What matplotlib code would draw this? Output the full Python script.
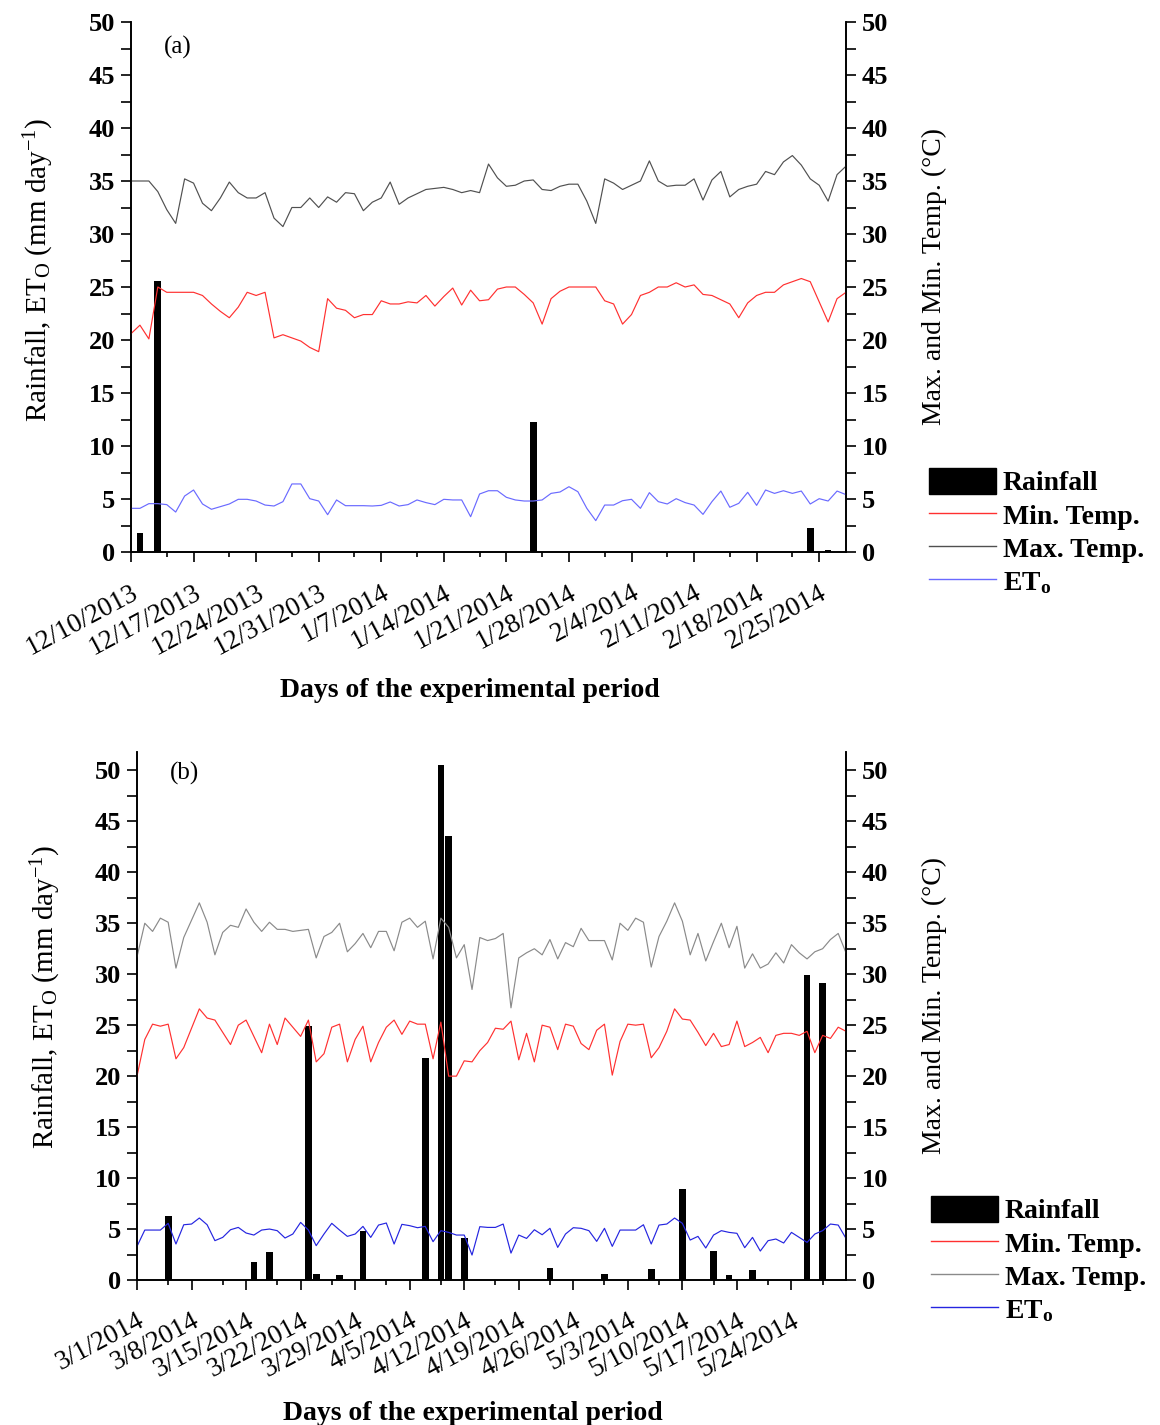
import numpy as np
import matplotlib
matplotlib.use('Agg')
import matplotlib.pyplot as plt
import matplotlib.dates as mdates
from matplotlib.patches import Patch
from matplotlib.lines import Line2D

plt.rcParams['font.family'] = ['Liberation Serif', 'DejaVu Serif']
plt.rcParams['mathtext.fontset'] = 'custom'
plt.rcParams['mathtext.rm'] = 'Liberation Serif'
plt.rcParams['mathtext.it'] = 'Liberation Serif:italic'
plt.rcParams['mathtext.bf'] = 'Liberation Serif:bold'

# ---------------- Panel (a) data: 10 Dec 2013 - 28 Feb 2014 (daily) ----------------
start_a = '2013-12-10'
end_a = '2014-02-28'
tmax_a = [35.0, 35.0, 35.0, 34.0, 32.3, 31.0, 35.2, 34.8, 32.9, 32.2,
          33.4, 34.9, 33.9, 33.4, 33.4, 33.9, 31.5, 30.7, 32.5, 32.5,
          33.4, 32.5, 33.5, 33.0, 33.9, 33.8, 32.2, 33.0, 33.4, 34.9,
          32.8, 33.4, 33.8, 34.2, 34.3, 34.4, 34.2, 33.9, 34.1, 33.9,
          36.6, 35.3, 34.5, 34.6, 35.0, 35.1, 34.2, 34.1, 34.5, 34.7,
          34.7, 33.1, 31.0, 35.2, 34.8, 34.2, 34.6, 35.0, 36.9, 35.0,
          34.5, 34.6, 34.6, 35.2, 33.2, 35.1, 35.9, 33.5, 34.2, 34.5,
          34.7, 35.9, 35.6, 36.8, 37.4, 36.5, 35.2, 34.6, 33.1, 35.6,
          36.4]
tmin_a = [20.6, 21.4, 20.1, 25.0, 24.5, 24.5, 24.5, 24.5, 24.2, 23.4,
          22.7, 22.1, 23.1, 24.5, 24.2, 24.5, 20.2, 20.5, 20.2, 19.9,
          19.3, 18.9, 23.9, 23.0, 22.8, 22.1, 22.4, 22.4, 23.7, 23.4,
          23.4, 23.6, 23.5, 24.2, 23.2, 24.1, 24.9, 23.3, 24.7, 23.7,
          23.8, 24.8, 25.0, 25.0, 24.3, 23.5, 21.5, 23.9, 24.6, 25.0,
          25.0, 25.0, 25.0, 23.7, 23.4, 21.5, 22.4, 24.2, 24.5, 25.0,
          25.0, 25.4, 25.0, 25.2, 24.3, 24.2, 23.8, 23.4, 22.1, 23.5,
          24.2, 24.5, 24.5, 25.2, 25.5, 25.8, 25.5, 23.6, 21.7, 23.9,
          24.5]
et_a = [4.12, 4.12, 4.56, 4.56, 4.47, 3.77, 5.28, 5.85, 4.53, 4.03,
        4.28, 4.53, 4.97, 4.97, 4.81, 4.43, 4.34, 4.75, 6.42, 6.42,
        5.03, 4.81, 3.52, 4.91, 4.37, 4.37, 4.37, 4.34, 4.40, 4.72,
        4.34, 4.47, 4.91, 4.66, 4.47, 4.97, 4.91, 4.91, 3.33, 5.47,
        5.78, 5.78, 5.16, 4.91, 4.81, 4.81, 4.91, 5.53, 5.66, 6.16,
        5.69, 4.12, 2.96, 4.43, 4.43, 4.84, 4.97, 4.12, 5.60, 4.75,
        4.53, 5.03, 4.66, 4.43, 3.55, 4.75, 5.75, 4.22, 4.59, 5.63,
        4.40, 5.85, 5.53, 5.78, 5.53, 5.75, 4.53, 5.03, 4.81, 5.75,
        5.41]
rain_dates_a = ['2013-12-11', '2013-12-13', '2014-01-24', '2014-02-24', '2014-02-26']
rain_a = [1.8, 25.6, 12.3, 2.3, 0.2]
tick_labels_a = ['12/10/2013', '12/17/2013', '12/24/2013', '12/31/2013', '1/7/2014',
                 '1/14/2014', '1/21/2014', '1/28/2014', '2/4/2014', '2/11/2014',
                 '2/18/2014', '2/25/2014']

# ---------------- Panel (b) data: 1 Mar 2014 - 31 May 2014 (daily) ----------------
start_b = '2014-03-01'
end_b = '2014-05-31'
tmax_b = [31.7, 35.0, 34.2, 35.5, 35.1, 30.6, 33.6, 35.3, 37.0, 35.1,
          31.9, 34.1, 34.8, 34.6, 36.4, 35.1, 34.2, 35.1, 34.4, 34.4,
          34.2, 34.3, 34.4, 31.6, 33.7, 34.1, 35.0, 32.2, 33.0, 34.0,
          32.6, 34.2, 34.2, 32.3, 35.1, 35.5, 34.6, 35.2, 31.5, 35.5,
          34.6, 31.6, 32.9, 28.5, 33.6, 33.3, 33.5, 34.0, 26.7, 31.6,
          32.1, 32.5, 31.9, 33.4, 31.5, 33.1, 32.7, 34.5, 33.3, 33.3,
          33.3, 31.4, 35.0, 34.3, 35.5, 35.1, 30.7, 33.7, 35.2, 37.0,
          35.2, 31.9, 34.0, 31.3, 33.2, 35.0, 32.6, 34.7, 30.6, 32.0,
          30.6, 31.0, 32.1, 31.1, 32.9, 32.1, 31.5, 32.2, 32.5, 33.4,
          34.0, 32.1]
tmin_b = [20.0, 23.6, 25.1, 24.9, 25.1, 21.7, 22.8, 24.7, 26.6, 25.7,
          25.5, 24.3, 23.1, 25.0, 25.5, 23.9, 22.3, 25.1, 23.1, 25.7,
          24.8, 23.9, 25.5, 21.4, 22.2, 24.8, 25.1, 21.4, 23.6, 24.9,
          21.4, 23.3, 24.8, 25.5, 24.1, 25.4, 25.1, 25.1, 21.7, 25.3,
          20.0, 20.0, 21.5, 21.4, 22.5, 23.3, 24.7, 24.6, 25.4, 21.6,
          24.2, 21.4, 25.0, 24.8, 22.6, 25.1, 24.9, 23.2, 22.6, 24.5,
          25.1, 20.1, 23.4, 25.1, 25.0, 25.1, 21.8, 22.8, 24.4, 26.6,
          25.6, 25.5, 24.3, 23.0, 24.2, 22.9, 23.1, 25.4, 22.9, 23.3,
          23.8, 22.3, 24.0, 24.2, 24.2, 24.0, 24.4, 22.3, 24.0, 23.7,
          24.8, 24.4]
et_b = [3.30, 4.90, 4.90, 4.90, 5.56, 3.53, 5.42, 5.49, 6.08, 5.42,
        3.86, 4.18, 4.93, 5.16, 4.61, 4.41, 4.90, 5.00, 4.84, 4.12,
        4.51, 5.65, 4.90, 3.37, 4.51, 5.56, 4.90, 4.28, 4.51, 5.26,
        4.18, 5.39, 5.59, 3.53, 5.46, 5.33, 5.13, 5.26, 3.76, 4.84,
        4.67, 4.41, 4.41, 2.45, 5.23, 5.16, 5.16, 5.49, 2.64, 4.41,
        4.08, 4.93, 4.44, 5.07, 3.20, 4.51, 5.13, 5.07, 4.84, 3.79,
        5.07, 3.30, 4.90, 4.90, 4.90, 5.42, 3.53, 5.39, 5.49, 6.08,
        5.56, 3.92, 4.28, 3.14, 4.41, 4.84, 4.67, 4.58, 3.17, 4.18,
        2.84, 3.86, 4.02, 3.63, 4.67, 4.18, 3.69, 4.51, 4.84, 5.49,
        5.39, 4.08]
rain_dates_b = ['2014-03-05', '2014-03-16', '2014-03-18', '2014-03-23', '2014-03-24',
                '2014-03-27', '2014-03-30', '2014-04-07', '2014-04-09', '2014-04-10',
                '2014-04-12', '2014-04-23', '2014-04-30', '2014-05-06', '2014-05-10',
                '2014-05-14', '2014-05-16', '2014-05-19', '2014-05-26', '2014-05-28']
rain_b = [6.3, 1.8, 2.7, 24.9, 0.6, 0.5, 4.8, 21.8, 50.5, 43.6,
          4.1, 1.2, 0.6, 1.1, 8.9, 2.8, 0.5, 1.0, 29.9, 29.1]
tick_labels_b = ['3/1/2014', '3/8/2014', '3/15/2014', '3/22/2014', '3/29/2014',
                 '4/5/2014', '4/12/2014', '4/19/2014', '4/26/2014', '5/3/2014',
                 '5/10/2014', '5/17/2014', '5/24/2014']

W, H = 1160, 1425
fig = plt.figure(figsize=(W / 100, H / 100), dpi=100)


def fig_rect(l, t, r, b):
    return [l / W, 1 - b / H, (r - l) / W, (b - t) / H]


def panel(rect, start, end, tmax, tmin, et, rain_dates, rain, tick_labels,
          ymax, bar_w, cols, letter, label_xy, ylab_x, ylab_y, yr_x, yr_y,
          xlab_y, leg_xy):
    ax = fig.add_axes(rect)
    ax2 = ax.twinx()
    x0 = mdates.datestr2num(start)
    x1 = mdates.datestr2num(end)
    xs = x0 + np.arange(len(tmax))
    rx = [mdates.datestr2num(d) for d in rain_dates]

    ax.bar(rx, rain, width=bar_w, color='black', zorder=2)
    ax.plot(xs, et, color=cols['et'], lw=0.85, zorder=3)
    ax2.plot(xs, tmin, color=cols['min'], lw=0.85)
    ax2.plot(xs, tmax, color=cols['max'], lw=0.85)

    for a in (ax, ax2):
        a.set_xlim(x0, x1)
        a.set_ylim(0, ymax)
        a.spines['top'].set_visible(False)
        for s in ('left', 'right', 'bottom'):
            a.spines[s].set_linewidth(1.2)
        yt = list(range(0, 51, 5))
        a.set_yticks(yt, labels=[str(v) for v in yt], fontweight='bold', fontsize=19)
        a.set_yticks(np.arange(2.5, 50, 5), minor=True)
        a.tick_params(axis='y', which='both', direction='out', length=7.5,
                      width=1.2, pad=4)

    maj = x0 + 7 * np.arange(len(tick_labels))
    mnr = maj + 4
    mnr = mnr[mnr < x1]
    ax.set_xticks(maj, labels=tick_labels, rotation=28, ha='right', va='top',
                  rotation_mode='anchor', fontsize=19.5)
    ax.set_xticks(mnr, minor=True)
    ax.tick_params(axis='x', which='major', direction='out', length=7.5, width=1.2, pad=13)
    ax.tick_params(axis='x', which='minor', direction='out', length=3.8, width=1.2)

    ax.text(label_xy[0], label_xy[1], letter, transform=ax.transAxes,
            ha='left', va='top', fontsize=18)

    ax.set_ylabel('Rainfall, ET$_\\mathrm{O}$ (mm day$^{\\mathrm{-1}}$)', fontsize=21)
    ax.yaxis.set_label_coords(ylab_x, ylab_y)
    ax2.set_ylabel('Max. and Min. Temp. (\u00b0C)', fontsize=20)
    ax2.yaxis.set_label_coords(yr_x, yr_y)
    ax.set_xlabel('Days of the experimental period', fontsize=20, fontweight='bold')
    ax.xaxis.set_label_coords(0.474, xlab_y)

    handles = [Patch(facecolor='black', edgecolor='black'),
               Line2D([], [], color=cols['min'], lw=1.0),
               Line2D([], [], color=cols['max'], lw=1.0),
               Line2D([], [], color=cols['et'], lw=1.0)]
    labels = ['Rainfall', 'Min. Temp.', 'Max. Temp.', 'ET$_\\mathbf{o}$']
    fig.legend(handles, labels, loc='upper left',
               bbox_to_anchor=(leg_xy[0] / W, 1 - leg_xy[1] / H),
               bbox_transform=fig.transFigure, frameon=False, borderpad=0,
               borderaxespad=0, handlelength=2.4, handleheight=1.05,
               handletextpad=0.25, labelspacing=0.18,
               prop={'family': 'Liberation Serif', 'weight': 'bold', 'size': 20})
    return ax, ax2


cols_a = {'min': '#ff3030', 'max': '#505050', 'et': '#6a6aff'}
cols_b = {'min': '#ff3030', 'max': '#8a8a8a', 'et': '#2525e0'}

panel(fig_rect(131, 22, 846, 552), start_a, end_a, tmax_a, tmin_a, et_a,
      rain_dates_a, rain_a, tick_labels_a, 50, 0.75, cols_a, '(a)',
      (0.046, 0.973), -0.105, 0.532, 1.106, 0.519, -0.237, (929, 468))

panel(fig_rect(137, 752, 846, 1280), start_b, end_b, tmax_b, tmin_b, et_b,
      rain_dates_b, rain_b, tick_labels_b, 51.8, 0.86, cols_b, '(b)',
      (0.047, 0.981), -0.104, 0.536, 1.107, 0.52, -0.229, (931, 1196))

fig.savefig('out.png', dpi=100)
